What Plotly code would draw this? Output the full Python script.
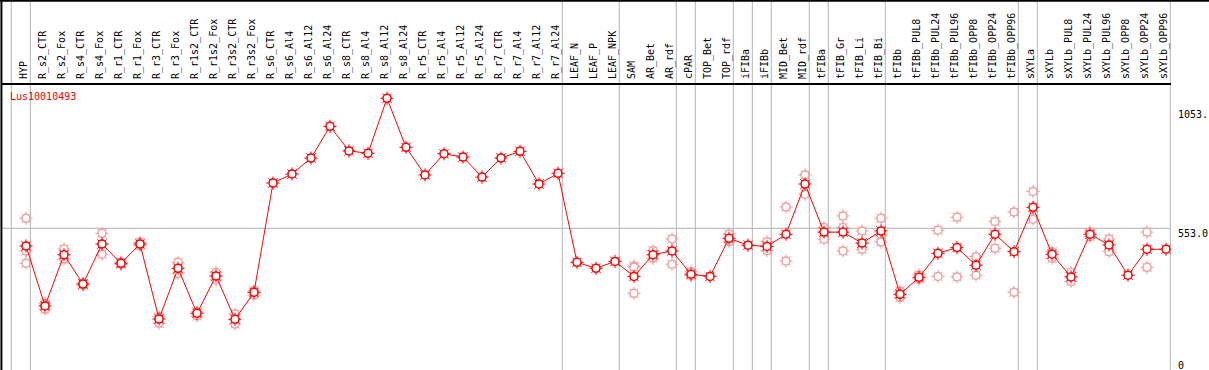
import plotly.graph_objects as go

categories = ["HYP", "R_s2_CTR", "R_s2_Fox", "R_s4_CTR", "R_s4_Fox", "R_r1_CTR", "R_r1_Fox",
              "R_r3_CTR", "R_r3_Fox", "R_r1s2_CTR", "R_r1s2_Fox", "R_r3s2_CTR", "R_r3s2_Fox",
              "R_s6_CTR", "R_s6_Al4", "R_s6_Al12", "R_s6_Al24", "R_s8_CTR", "R_s8_Al4",
              "R_s8_Al12", "R_s8_Al24", "R_r5_CTR", "R_r5_Al4", "R_r5_Al12", "R_r5_Al24",
              "R_r7_CTR", "R_r7_Al4", "R_r7_Al12", "R_r7_Al24", "LEAF_N", "LEAF_P", "LEAF_NPK",
              "SAM", "AR_Bet", "AR_rdf", "cPAR", "TOP_Bet", "TOP_rdf", "iFIBa", "iFIBb",
              "MID_Bet", "MID_rdf", "tFIBa", "tFIB_Gr", "tFIB_Li", "tFIB_Bi", "tFIBb",
              "tFIBb_PUL8", "tFIBb_PUL24", "tFIBb_PUL96", "tFIBb_OPP8", "tFIBb_OPP24",
              "tFIBb_OPP96", "sXYLa", "sXYLb", "sXYLb_PUL8", "sXYLb_PUL24", "sXYLb_PUL96",
              "sXYLb_OPP8", "sXYLb_OPP24", "sXYLb_OPP96"]

mean_values = [479, 227, 442, 319, 487, 406, 487, 172, 385, 196, 353, 171, 284,
               743, 781, 848, 981, 878, 868, 1099, 893, 777, 866, 852, 768,
               848, 876, 739, 784, 410, 385, 414,
               351, 442, 458, 360, 351, 511, 482, 477, 528, 739,
               537, 537, 491, 542, 276, 347, 448, 472, 398, 528, 455,
               641, 444, 349, 528, 483, 356, 465, 465]

replicates = [[595, 458, 406], [238, 213], [466, 424], [322, 314], [532, 444], [411, 401],
              [494, 480], [182, 154], [410, 364], [202, 185], [367, 336], [193, 151],
              [291, 272],
              [], [], [], [], [], [], [], [], [], [], [], [], [], [], [], [],
              [], [], [],
              [395, 389, 280], [459, 427], [508, 402], [371, 354], [], [529, 497], [],
              [497, 459], [642, 416], [777, 696],
              [556, 507], [605, 556, 458], [542, 465], [595, 525, 495], [290, 262],
              [357, 340], [545, 351], [599, 349], [434, 356], [582, 469], [621, 284],
              [708, 591], [455, 427], [368, 330], [537, 518], [508, 455], [], [537, 389], []]

gene_name = "Lus10010493"
group_last_index = [-1, 0, 28, 31, 34, 35, 37, 38, 39, 41, 42, 45, 52, 53, 60]
y_labels = [(0, "0"), (553, "553.0"), (1053, "1053.")]

idx = list(range(len(categories)))
rep_x, rep_y = [], []
for i, reps in enumerate(replicates):
    for v in reps:
        rep_x.append(i)
        rep_y.append(v)

RED = "#ff0000"
PINK = "#f0a0a0"
MONO = "DejaVu Sans Mono"

fig = go.Figure()
# replicate points
fig.add_trace(go.Scatter(x=rep_x, y=rep_y, mode="markers", hoverinfo="skip",
                         marker=dict(symbol="asterisk-open", size=11, color=PINK,
                                     line=dict(color=PINK, width=1))))
fig.add_trace(go.Scatter(x=rep_x, y=rep_y, mode="markers",
                         marker=dict(symbol="circle", size=8, color="white",
                                     line=dict(color=PINK, width=1.5))))
# mean line
fig.add_trace(go.Scatter(x=idx, y=mean_values, mode="lines", line=dict(color=RED, width=1)))
fig.add_trace(go.Scatter(x=idx, y=mean_values, mode="markers", hoverinfo="skip",
                         marker=dict(symbol="asterisk-open", size=11, color=RED,
                                     line=dict(color=RED, width=1))))
fig.add_trace(go.Scatter(x=idx, y=mean_values, mode="markers",
                         marker=dict(symbol="circle", size=8, color="white",
                                     line=dict(color=RED, width=1.5))))

shapes = []
for g in group_last_index:
    shapes.append(dict(type="line", xref="x", yref="paper", x0=g + 0.23, x1=g + 0.23,
                       y0=0, y1=1.3, line=dict(color="#c0c0c0", width=1.2), layer="below"))
shapes.append(dict(type="line", xref="paper", yref="y", x0=0, x1=1, y0=553, y1=553,
                   line=dict(color="#c0c0c0", width=1.2), layer="below"))
# frame lines
shapes.append(dict(type="line", xref="paper", yref="paper", x0=-0.01, x1=1.05, y0=1.296, y1=1.296,
                   line=dict(color="black", width=2)))
shapes.append(dict(type="line", xref="paper", yref="paper", x0=-0.0005, x1=-0.0005, y0=-0.01, y1=1.3,
                   line=dict(color="black", width=2)))

annotations = [dict(xref="paper", yref="paper", x=0, y=1, xanchor="left", yanchor="top",
                    xshift=6, yshift=-4, text=gene_name, showarrow=False,
                    font=dict(family=MONO, size=10, color=RED))]
for v, t in y_labels:
    annotations.append(dict(xref="paper", yref="y", x=1, y=v, xanchor="left", yanchor="top",
                            xshift=5, yshift=2, text=t, showarrow=False,
                            font=dict(family=MONO, size=10, color="black")))

fig.update_layout(
    width=1209, height=370,
    margin=dict(l=2, r=38, t=85, b=0, autoexpand=False),
    paper_bgcolor="white", plot_bgcolor="white",
    showlegend=False,
    shapes=shapes, annotations=annotations,
    xaxis=dict(range=[-24 / 19, 1145 / 19], side="top", tickmode="array",
               tickvals=idx, ticktext=categories, tickangle=-90,
               tickfont=dict(family=MONO, size=10, color="black"),
               showgrid=False, zeroline=False, showline=True, linecolor="black",
               linewidth=2, ticks="", ticklabelstandoff=2, ticklabelshift=-2,
               automargin=False),
    yaxis=dict(range=[-42, 1154.7], showgrid=False, zeroline=False, showticklabels=False,
               showline=False, ticks="", automargin=False),
)

fig.write_html("out.html", config={"displayModeBar": False},
               post_script="document.body.style.margin='0';document.body.style.overflow='hidden';")
